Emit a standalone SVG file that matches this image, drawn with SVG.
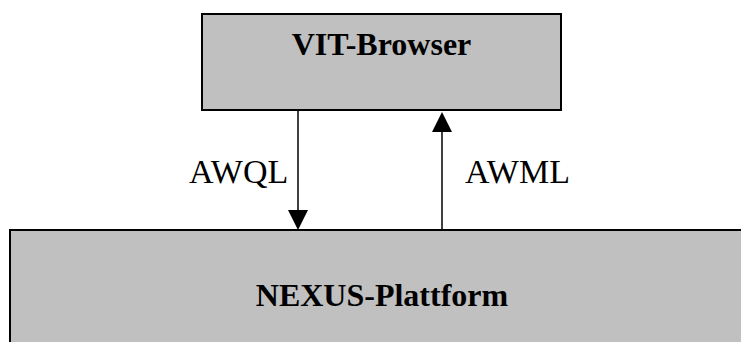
<svg xmlns="http://www.w3.org/2000/svg" width="741" height="342" viewBox="0 0 741 342">
  <style>
    .box { fill: #c0c0c0; stroke: #000; stroke-width: 2; }
    .title { font-family: "Liberation Serif", "Times New Roman", serif; font-weight: bold; font-size: 32px; fill: #000; text-anchor: middle; }
    .label { font-family: "Liberation Serif", "Times New Roman", serif; font-size: 34px; fill: #000; }
    .wire { stroke: #000; stroke-width: 1.5; fill: none; }
    .head { fill: #000; }
  </style>
  <rect width="741" height="342" fill="#fff"/>
  <g id="vit-browser">
    <rect class="box" x="202" y="14" width="359" height="96"/>
    <text class="title" x="381.5" y="55">VIT-Browser</text>
  </g>
  <g id="nexus-plattform">
    <rect class="box" x="10" y="230" width="760" height="130"/>
    <text class="title" x="382" y="306">NEXUS-Plattform</text>
  </g>
  <g id="connectors">
    <line class="wire" x1="298" y1="110" x2="298" y2="212"/>
    <polygon class="head" points="288,210 308,210 298,230"/>
    <text class="label" x="189" y="183">AWQL</text>
    <line class="wire" x1="442" y1="230" x2="442" y2="130"/>
    <polygon class="head" points="432,132 452,132 442,112"/>
    <text class="label" x="465" y="183">AWML</text>
  </g>
</svg>
